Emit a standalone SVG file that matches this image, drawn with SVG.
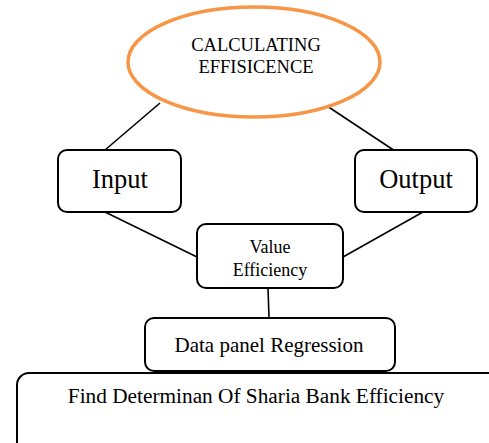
<svg xmlns="http://www.w3.org/2000/svg" width="489" height="443" viewBox="0 0 489 443">
<style>
.box{fill:#fff;stroke:#000;stroke-width:2}
.t{font-family:"Liberation Serif","Times New Roman",serif;fill:#000;text-anchor:middle}
.c{stroke:#000;stroke-width:1.6;fill:none}
</style>
<rect width="489" height="443" fill="#fff"/>
<g id="connectors">
<line class="c" x1="160" y1="103" x2="105" y2="150"/>
<line class="c" x1="324" y1="104" x2="395" y2="151"/>
<line class="c" x1="105" y1="212" x2="197" y2="257"/>
<line class="c" x1="423" y1="212" x2="343" y2="257"/>
<line class="c" x1="268" y1="288" x2="269" y2="318"/>
</g>
<g id="calc">
<ellipse cx="254" cy="62" rx="126" ry="55" fill="#fff" stroke="#F79646" stroke-width="3.5"/>
<text class="t" x="256" y="51" font-size="18.5">CALCULATING</text>
<text class="t" x="256" y="73" font-size="18.5">EFFISICENCE</text>
</g>
<g id="input">
<rect class="box" x="58" y="150" width="123" height="62" rx="9"/>
<text class="t" x="120" y="188" font-size="26.5">Input</text>
</g>
<g id="output">
<rect class="box" x="355" y="150" width="122" height="62" rx="9"/>
<text class="t" x="416" y="188" font-size="26.5">Output</text>
</g>
<g id="value">
<rect class="box" x="197" y="224" width="146" height="64" rx="9"/>
<text class="t" x="270" y="253" font-size="18">Value</text>
<text class="t" x="270" y="276" font-size="18">Efficiency</text>
</g>
<g id="panel">
<rect class="box" x="145" y="318" width="250" height="53" rx="9"/>
<text class="t" x="269" y="352" font-size="21">Data panel Regression</text>
</g>
<g id="find">
<rect class="box" x="17" y="373" width="490" height="90" rx="12"/>
<text class="t" x="256" y="403" font-size="21.3">Find Determinan Of Sharia Bank Efficiency</text>
</g>
</svg>
